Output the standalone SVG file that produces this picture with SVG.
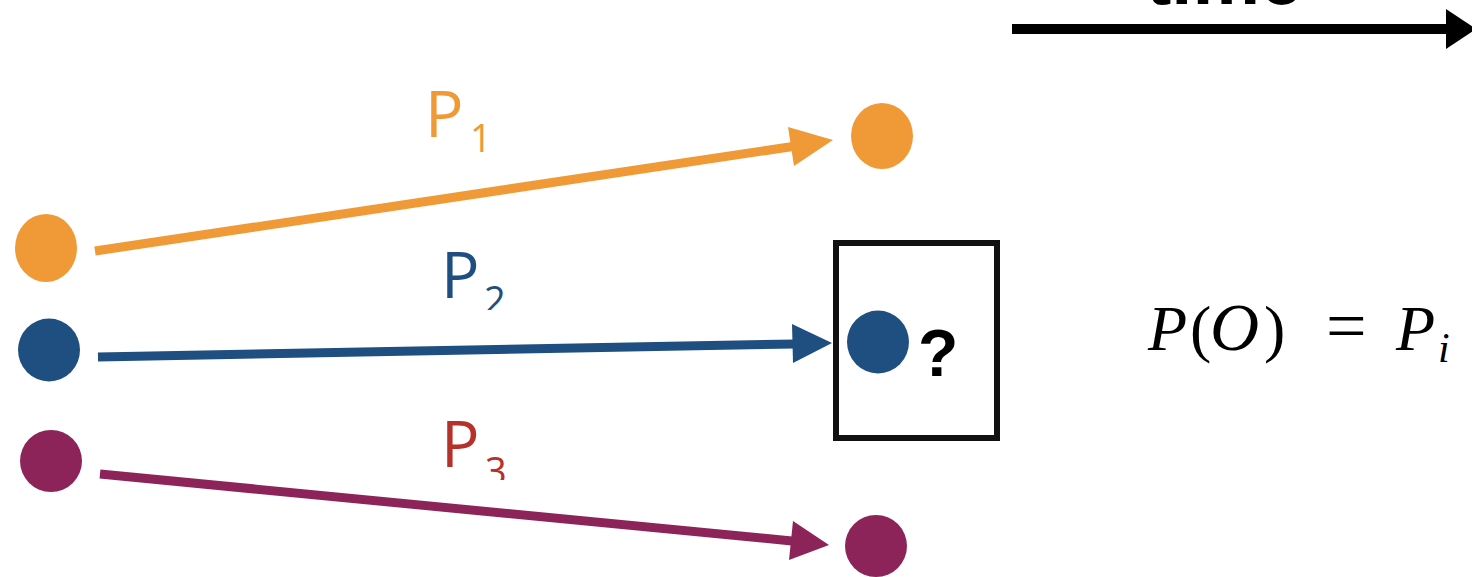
<svg xmlns="http://www.w3.org/2000/svg" width="1472" height="577" viewBox="0 0 1472 577">
<style>
.lbl{font-family:"Open Sans","Liberation Sans",sans-serif;font-size:64px}
.sub{font-family:"Open Sans","Liberation Sans",sans-serif;font-size:38px}
.math{font-family:"Liberation Serif","DejaVu Serif",serif;font-size:64px}
.or{fill:#F09A37}.bl{fill:#1F4E80}.mr{fill:#8C2459}
.l-or{stroke:#F09A37;stroke-width:9;fill:none}
.l-bl{stroke:#1F4E80;stroke-width:9;fill:none}
.l-mr{stroke:#8C2459;stroke-width:9;fill:none}
</style>
<defs>
<clipPath id="c2"><rect x="400" y="220" width="150" height="90"/></clipPath>
<clipPath id="c3"><rect x="400" y="390" width="150" height="90"/></clipPath>
</defs>
<rect width="1472" height="577" fill="#ffffff"/>

<g id="time-axis">
<text x="1146" y="4" font-family="Liberation Sans,Arial,sans-serif" font-weight="bold" font-size="76">time</text>
<line x1="1012" y1="29" x2="1450" y2="29" stroke="#000" stroke-width="10"/>
<polygon points="1446,9 1476,29 1446,49" fill="#000"/>
</g>

<g id="connectors">
<line class="l-or" x1="95" y1="251" x2="796" y2="146"/>
<polygon class="or" points="833,140 794,166 788,127"/>
<line class="l-bl" x1="98" y1="357" x2="795" y2="344"/>
<polygon class="bl" points="832,343 793,363 792,324"/>
<line class="l-mr" x1="100" y1="474" x2="792" y2="541"/>
<polygon class="mr" points="829,545 789,560 793,521"/>
</g>

<g id="src-orange"><ellipse class="or" cx="46" cy="248" rx="31" ry="34"/></g>
<g id="src-blue"><ellipse class="bl" cx="49" cy="350" rx="31" ry="31.5"/></g>
<g id="src-maroon"><ellipse class="mr" cx="51" cy="461" rx="31" ry="31"/></g>

<g id="dst-orange"><ellipse class="or" cx="882" cy="136" rx="31" ry="33"/></g>
<g id="dst-maroon"><ellipse class="mr" cx="876" cy="546" rx="31" ry="31"/></g>

<g id="observed">
<rect x="836" y="243" width="161" height="195" fill="none" stroke="#111" stroke-width="6"/>
<ellipse class="bl" cx="878" cy="342" rx="31" ry="31.5"/>
<text x="918" y="376" font-family="Liberation Sans,Arial,sans-serif" font-weight="bold" font-size="66" fill="#000">?</text>
</g>

<g id="label-p1" fill="#F09A37">
<text class="lbl" x="425" y="137">P<tspan class="sub" x="470" y="152">1</tspan></text>
</g>
<g id="label-p2" fill="#1F4E80" clip-path="url(#c2)">
<text class="lbl" x="441" y="298">P<tspan class="sub" x="484" y="314">2</tspan></text>
</g>
<g id="label-p3" fill="#B5312A" clip-path="url(#c3)">
<text class="lbl" x="441" y="467">P<tspan class="sub" x="485" y="485">3</tspan></text>
</g>

<g id="formula" fill="#000">
<text class="math" y="350"><tspan x="1148" font-style="italic">P</tspan><tspan x="1190">(</tspan><tspan x="1210" font-style="italic" font-size="68">O</tspan><tspan x="1264">)</tspan><tspan x="1326" font-size="72">=</tspan><tspan x="1396" font-style="italic">P</tspan><tspan x="1438" y="362" font-style="italic" font-size="42">i</tspan></text>
</g>
</svg>
